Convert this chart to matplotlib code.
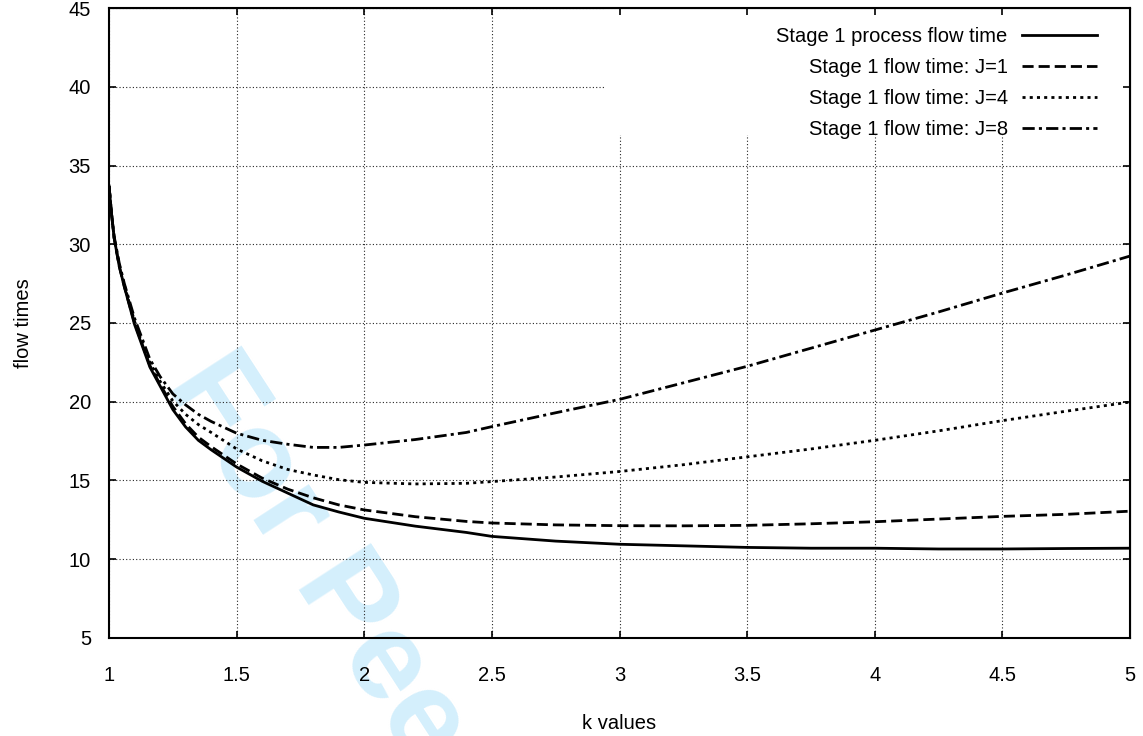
import matplotlib
matplotlib.use("Agg")
from matplotlib import pyplot as plt
from matplotlib.patches import Rectangle

plt.rcParams['font.family'] = ['Liberation Sans', 'DejaVu Sans']

# k values
k = [1.0, 1.01, 1.02, 1.04, 1.06, 1.1, 1.16, 1.2, 1.25, 1.3, 1.35, 1.4, 1.5, 1.6, 1.7, 1.8, 1.9, 2.0,
     2.2, 2.4, 2.5, 2.75, 3.0, 3.25, 3.5, 3.75, 4.0, 4.25, 4.5, 4.75, 5.0]

# Stage 1 process flow time
process = [33.7, 31.9, 30.4, 28.6, 27.3, 24.9, 22.2, 21.0, 19.5, 18.4, 17.55, 16.95, 15.85, 14.95, 14.2, 13.45,
           13.0, 12.6, 12.1, 11.7, 11.45, 11.15, 10.95, 10.85, 10.75, 10.7, 10.7, 10.65, 10.65, 10.68, 10.7]
# Stage 1 flow time for J=1, 4, 8
j1 = [33.7, 31.9, 30.4, 28.6, 27.3, 25.0, 22.3, 21.1, 19.7, 18.6, 17.75, 17.15, 16.05, 15.15, 14.45, 13.9,
      13.45, 13.13, 12.7, 12.4, 12.3, 12.18, 12.13, 12.12, 12.15, 12.25, 12.38, 12.55, 12.72, 12.85, 13.05]
j4 = [33.7, 31.9, 30.4, 28.7, 27.4, 25.1, 22.5, 21.3, 20.05, 19.2, 18.55, 18.05, 17.0, 16.25, 15.7, 15.35,
      15.05, 14.88, 14.78, 14.82, 14.93, 15.22, 15.57, 16.0, 16.5, 17.0, 17.55, 18.15, 18.8, 19.4, 19.98]
j8 = [33.7, 31.9, 30.5, 28.8, 27.5, 25.3, 22.7, 21.6, 20.5, 19.8, 19.2, 18.75, 18.0, 17.55, 17.3, 17.1,
      17.1, 17.25, 17.6, 18.05, 18.42, 19.3, 20.15, 21.2, 22.25, 23.4, 24.55, 25.7, 26.9, 28.05, 29.25]

labels = ["Stage 1 process flow time", "Stage 1 flow time: J=1",
          "Stage 1 flow time: J=4", "Stage 1 flow time: J=8"]

xticks = [1, 1.5, 2, 2.5, 3, 3.5, 4, 4.5, 5]
xticklabels = ["1", "1.5", "2", "2.5", "3", "3.5", "4", "4.5", "5"]
yticks = [5, 10, 15, 20, 25, 30, 35, 40, 45]

fs = 14.5

fig = plt.figure(figsize=(11.43, 7.36), dpi=100)
ax = fig.add_axes([0.0954, 0.1332, 0.8932, 0.8559])
ax.set_facecolor('none')

lw = 2.0
ax.plot(k, process, color='black', lw=lw, linestyle='-', label=labels[0])
ax.plot(k, j1, color='black', lw=lw, linestyle=(0, (4, 1.8)), label=labels[1])
ax.plot(k, j4, color='black', lw=lw, linestyle=(0, (1.1, 1.5)), label=labels[2])
ax.plot(k, j8, color='black', lw=lw, linestyle=(0, (4.4, 1.5, 1.1, 1.5)), label=labels[3])

ax.set_xlim(1, 5)
ax.set_ylim(5, 45)
ax.set_xticks(xticks)
ax.set_xticklabels(xticklabels)
ax.set_yticks(yticks)
ax.tick_params(direction='in', length=5, width=1.2, labelsize=fs, top=False, right=False)
ax.tick_params(axis='x', pad=20)
ax.tick_params(axis='y', pad=13)
ax.grid(True, color='0.15', lw=0.8, linestyle=(0, (1, 2)))
for s in ax.spines.values():
    s.set_linewidth(1.5)

# white key box hides the grid behind the legend
ax.add_patch(Rectangle((0.486, 0.798), 0.514, 0.202, transform=ax.transAxes,
                       facecolor='white', edgecolor='none', zorder=1.8))

# mirror ticks on top / right
secx = ax.secondary_xaxis('top')
secx.set_xticks(xticks)
secx.tick_params(direction='in', length=5, width=1.2, labeltop=False)
secx.set_zorder(3)
secy = ax.secondary_yaxis('right')
secy.set_yticks(yticks)
secy.tick_params(direction='in', length=5, width=1.2, labelright=False)
secy.set_zorder(3)

ax.set_xlabel("k values", fontsize=fs, labelpad=21)
ax.set_ylabel("flow times", fontsize=fs, labelpad=26)

leg = ax.legend(loc='upper right', bbox_to_anchor=(0.968, 0.97), frameon=False,
                markerfirst=False, fontsize=fs, handlelength=3.75, handletextpad=0.7,
                labelspacing=0.6, borderpad=0, borderaxespad=0)
for col in leg._legend_box.get_children()[1].get_children():
    col.align = "right"

# watermark
ax.text(0.144, 0.477, "For Peer Review", transform=fig.transFigure, fontsize=90,
        fontweight='bold', color='#d4effc', rotation=-57, rotation_mode='anchor',
        ha='left', va='baseline', zorder=0.1, clip_on=False)

fig.savefig("out.png", dpi=100)
